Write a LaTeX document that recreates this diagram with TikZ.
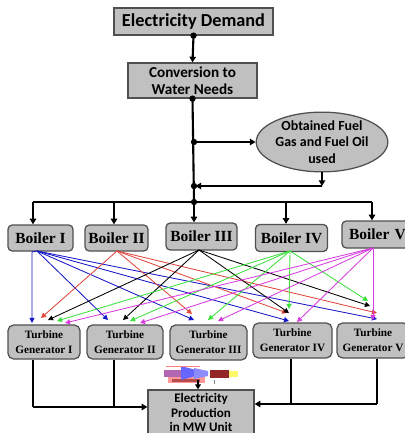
\documentclass[tikz,border=0pt]{standalone}
\usepackage{fontspec}
\setmainfont{Liberation Serif}
\newfontfamily\carl{Carlito}
\usetikzlibrary{arrows.meta,shapes.geometric}
\newcommand{\pxu}{0.025cm}
\definecolor{boxgray}{RGB}{192,192,192}
\definecolor{edgegray}{RGB}{80,80,80}
\definecolor{lnblue}{RGB}{20,20,200}
\definecolor{lnred}{RGB}{225,70,60}
\definecolor{lngreen}{RGB}{60,225,60}
\definecolor{lnmag}{RGB}{215,60,225}
\tikzset{
  flowbox/.style={draw=edgegray,fill=boxgray,line width=0.9pt,align=center,inner sep=1pt,
    font=\carl\bfseries},
  boilerbox/.style={flowbox,rounded corners=3pt,font=\bfseries\fontsize{11}{12}\selectfont},
  turbbox/.style={flowbox,rounded corners=4pt,font=\bfseries\fontsize{8}{10.5}\selectfont},
  bus/.style={line width=1.5pt,black},
  busarrow/.style={bus,-{Triangle[length=4pt,width=4.5pt]}},
  jdot/.style={circle,fill=black,inner sep=0pt,minimum size=4.5pt},
  feed/.style={line width=0.6pt,-{Triangle[length=3.6pt,width=3.6pt]}},
}
\begin{document}
\begin{tikzpicture}[x=0.025cm,y=-0.025cm]
\useasboundingbox (0,0) rectangle (404,433);

% top chain
\node[flowbox,minimum width=159*\pxu,minimum height=27*\pxu,font=\carl\bfseries\fontsize{13}{14}\selectfont]
  (demand) at (193.5,21.5) {Electricity Demand};
\node[flowbox,minimum width=129*\pxu,minimum height=35*\pxu,font=\carl\bfseries\fontsize{10.8}{12.3}\selectfont]
  (conv) at (192.5,80.5) {Conversion to\\Water Needs};
\node[ellipse,draw=edgegray,fill=boxgray,line width=0.9pt,align=center,inner sep=0pt,
  minimum width=130*\pxu,minimum height=57*\pxu,font=\carl\bfseries\fontsize{9.9}{11.5}\selectfont]
  (fuel) at (322,142) {Obtained Fuel\\Gas and Fuel Oil\\used};

% boilers
\node[boilerbox,minimum width=65*\pxu,minimum height=26*\pxu] (b1) at (40.5,238) {Boiler I};
\node[boilerbox,minimum width=63*\pxu,minimum height=26*\pxu] (b2) at (116.5,238) {Boiler II};
\node[boilerbox,minimum width=71*\pxu,minimum height=27*\pxu] (b3) at (201.5,236.5) {Boiler III};
\node[boilerbox,minimum width=72*\pxu,minimum height=27*\pxu] (b4) at (291.5,238) {Boiler IV};
\node[boilerbox,minimum width=72*\pxu,minimum height=27*\pxu,text width=58*\pxu,align=left] (b5) at (378,234.5) {Boiler V};

% turbine generators
\node[turbbox,minimum width=72*\pxu,minimum height=34*\pxu] (g1) at (44,342) {Turbine\\Generator I};
\node[turbbox,minimum width=76*\pxu,minimum height=34*\pxu] (g2) at (125,342) {Turbine\\Generator II};
\node[turbbox,minimum width=77*\pxu,minimum height=35*\pxu] (g3) at (208.5,342.5) {Turbine\\Generator III};
\node[turbbox,minimum width=79*\pxu,minimum height=35*\pxu] (g4) at (292.5,340.5) {Turbine\\Generator IV};
\node[turbbox,minimum width=72*\pxu,minimum height=35*\pxu] (g5) at (373,340.5) {Turbine\\Generator V};

% production (box runs on past the lower edge)
\node[flowbox,minimum width=106*\pxu,minimum height=45*\pxu,font=\carl\bfseries\fontsize{9.3}{10}\selectfont]
  (prod) at (201,412.5) {Electricity\\Production\\in MW Unit};

% main bus
\coordinate (j1) at (194,142);
\coordinate (j2) at (194,186);
\coordinate (j3) at (194,202);
\draw[busarrow] (demand.south) -- (conv.north);
\draw[bus] (conv.south) -- (j3);
\draw[busarrow] (j1) -- (fuel.west);
\draw[busarrow] (fuel.south) -- (fuel.south |- j2);
\draw[busarrow] (fuel.south |- j2) -- ([xshift=1pt]j2);
\node[jdot] at (demand.south) {};
\node[jdot] at (conv.south) {};
\node[jdot] at (j1) {};
\node[jdot] at (j2) {};
\node[jdot] at (j3) {};

\coordinate (t1) at (33,202);
\coordinate (t2) at (114,202);
\coordinate (t4) at (286,202);
\coordinate (t5) at (372,202);
\draw[bus] (t1) -- (t5);
\draw[busarrow] (t1) -- (t1 |- b1.north);
\draw[busarrow] (t2) -- (t2 |- b2.north);
\draw[busarrow] (j3) -- (j3 |- b3.north);
\draw[busarrow] (t4) -- (t4 |- b4.north);
\draw[busarrow] (t5) -- (t5 |- b5.north);

% boiler outlets
\coordinate (s1) at (37,251);
\coordinate (s2) at (117,251);
\coordinate (s3) at (199,250);
\coordinate (s4) at (290,251);
\coordinate (s5) at (373,248);

% Boiler I feeds
\draw[feed,lnblue] (s1) -- (32,252) -- (32,323);
\draw[feed,lnblue] (s1) -- (108,320);
\draw[feed,lnblue] (s1) -- (194,320);
\draw[feed,lnblue] (s1) -- (289,321);
\draw[feed,lnblue] (s1) -- (377,319);
% Boiler II feeds
\draw[feed,lnred] (s2) -- (41,318);
\draw[feed,lnred] (s2) -- (192,314);
\draw[feed,lnred] (s2) -- (287,313);
\draw[feed,lnred] (s2) -- (377,313);
% Boiler III feeds
\draw[feed,black] (s3) -- (48,320);
\draw[feed,black] (s3) -- (123,320);
\draw[feed,black] (s3) -- (289,313);
\draw[feed,black] (s3) -- (370,306);
% Boiler IV feeds
\draw[feed,lngreen] (s4) -- (57,321);
\draw[feed,lngreen] (s4) -- (130,321);
\draw[feed,lngreen] (s4) -- (208,320);
\draw[feed,lngreen] (s4) -- (289,309);
\draw[feed,lngreen] (s4) -- (368,301);
% Boiler V feeds
\draw[feed,lnmag] (s5) -- (65,323);
\draw[feed,lnmag] (s5) -- (140,323);
\draw[feed,lnmag] (s5) -- (218,321);
\draw[feed,lnmag] (s5) -- (297,322);
\draw[feed,lnmag] (s5) -- (373,320);

% outputs to production
\coordinate (m1) at (33,407);
\coordinate (m2) at (114,407);
\coordinate (m4) at (291,404);
\coordinate (m5) at (377,404);
\draw[bus] (g1.south -| m1) -- (m1);
\draw[busarrow] (m1) -- (m1 -| prod.west);
\draw[bus] (g2.south -| m2) -- (m2);
\draw[bus] (g5.south -| m5) -- (m5);
\draw[busarrow] (m5) -- (m5 -| prod.east);
\draw[bus] (g4.south -| m4) -- (m4);

% small turbine sketch above the production box
\begin{scope}
  \fill[red!40] (168,377) rectangle (205,383);
  \fill[red!60!black!70] (172,379) rectangle (200,382);
  \fill[violet!60] (164,370) rectangle (184,377);
  \fill[blue!60] (181,366) -- (196,370) -- (196,376) -- (181,380) -- cycle;
  \fill[blue!45] (194,368) -- (208,371) -- (208,376) -- (194,379) -- cycle;
  \fill[red!50!black!85] (210,370) rectangle (229,378);
  \fill[yellow!60] (229,371) rectangle (238,377);
  \draw[red!50,line width=0.4pt] (166,366) -- (200,366);
  \draw[gray,line width=0.3pt] (214,380) -- (214,384);
\end{scope}
\coordinate (icon) at (198,380);
\draw[line width=1pt,-{Triangle[length=3.5pt,width=4pt]}] (icon) -- (icon |- prod.north);
\end{tikzpicture}
\end{document}
